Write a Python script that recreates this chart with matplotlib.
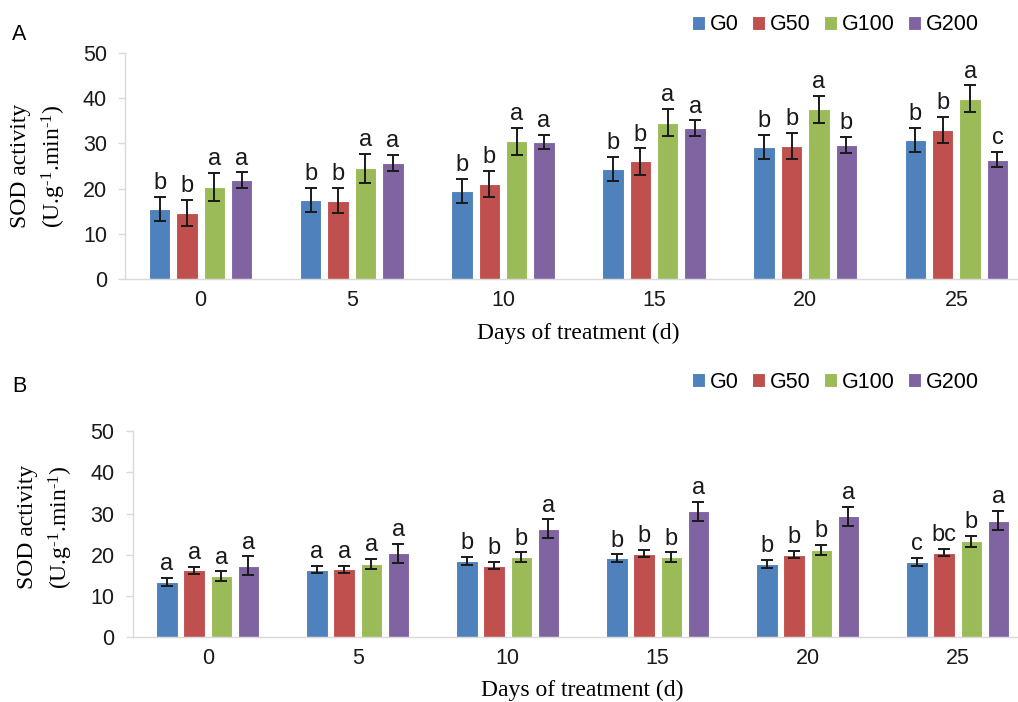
import matplotlib.pyplot as plt
import numpy as np

plt.rcParams['font.family'] = ['Liberation Sans', 'DejaVu Sans']
plt.rcParams['mathtext.fontset'] = 'custom'
plt.rcParams['mathtext.rm'] = 'Liberation Serif'
plt.rcParams['mathtext.it'] = 'Liberation Serif:italic'

days = ['0', '5', '10', '15', '20', '25']
groups = ['G0', 'G50', 'G100', 'G200']
colors = ['#4F81BD', '#C0504D', '#9BBB59', '#8064A2']

# panel A
a_g0 = [15.5, 17.5, 19.5, 24.3, 29.3, 30.8]
a_g50 = [14.6, 17.3, 21.0, 26.0, 29.35, 33.0]
a_g100 = [20.3, 24.5, 30.5, 34.6, 37.5, 39.9]
a_g200 = [21.9, 25.6, 30.3, 33.4, 29.6, 26.4]
a_g0_err = [2.6, 2.6, 2.6, 2.7, 2.65, 2.7]
a_g50_err = [2.95, 2.8, 2.9, 2.9, 2.9, 2.95]
a_g100_err = [3.15, 3.2, 3.0, 2.95, 2.95, 2.95]
a_g200_err = [1.7, 1.8, 1.6, 1.7, 1.8, 1.7]
a_g0_sig = ['b', 'b', 'b', 'b', 'b', 'b']
a_g50_sig = ['b', 'b', 'b', 'b', 'b', 'b']
a_g100_sig = ['a', 'a', 'a', 'a', 'a', 'a']
a_g200_sig = ['a', 'a', 'a', 'a', 'b', 'c']

# panel B
b_g0 = [13.4, 16.4, 18.5, 19.2, 17.8, 18.3]
b_g50 = [16.2, 16.5, 17.4, 20.3, 20.0, 20.5]
b_g100 = [14.8, 17.8, 19.4, 19.4, 21.2, 23.3]
b_g200 = [17.4, 20.4, 26.3, 30.5, 29.3, 28.3]
b_g0_err = [0.95, 0.9, 0.9, 0.9, 0.9, 0.9]
b_g50_err = [0.9, 0.8, 0.9, 0.8, 0.9, 0.9]
b_g100_err = [1.2, 1.2, 1.2, 1.2, 1.2, 1.3]
b_g200_err = [2.2, 2.3, 2.3, 2.3, 2.3, 2.3]
b_g0_sig = ['a', 'a', 'b', 'b', 'b', 'c']
b_g50_sig = ['a', 'a', 'b', 'b', 'b', 'bc']
b_g100_sig = ['a', 'a', 'b', 'b', 'b', 'b']
b_g200_sig = ['a', 'a', 'a', 'a', 'a', 'a']

W, H = 1018, 702
SERIF = ['Liberation Serif', 'DejaVu Serif']
YLABEL = 'SOD activity\n(U.g$^{\\text{-}1}$.min$^{\\text{-}1}$)'


def draw_panel(ax, means, errs, sigs):
    x = np.arange(len(days))
    pitch, width = 0.181, 0.142
    bars = []
    for i, (m, e, s) in enumerate(zip(means, errs, sigs)):
        xs = x + (i - 1.5) * pitch
        b = ax.bar(xs, m, width, color=colors[i], edgecolor='white', linewidth=0.8,
                   yerr=e, label=groups[i],
                   error_kw=dict(ecolor='#1a1a1a', elinewidth=1.4, capsize=4.5, capthick=1.4))
        bars.append(b)
        for xi, mi, ei, si in zip(xs, m, e, s):
            ax.annotate(si, (xi, mi + ei), xytext=(0, 2), textcoords='offset points',
                        ha='center', va='bottom', fontsize=17, color='#1a1a1a')
    ax.set_xlim(-0.5, len(days) - 0.5)
    ax.set_ylim(0, 50)
    ax.set_yticks(range(0, 51, 10))
    ax.set_xticks(x)
    ax.set_xticklabels(days)
    for side in ('top', 'right'):
        ax.spines[side].set_visible(False)
    for side in ('left', 'bottom'):
        ax.spines[side].set_color('#d9d9d9')
        ax.spines[side].set_linewidth(1.0)
    ax.tick_params(axis='y', length=5, width=1, color='#d9d9d9', pad=8,
                   labelsize=15.5, labelcolor='#1a1a1a')
    ax.tick_params(axis='x', length=0, pad=8, labelsize=15.5, labelcolor='#1a1a1a')
    return bars


fig = plt.figure(figsize=(W / 100, H / 100), dpi=100)

ax_a = fig.add_axes([125 / W, 1 - 279 / H, 907 / W, 226 / H])
bars_a = draw_panel(ax_a, [a_g0, a_g50, a_g100, a_g200],
                    [a_g0_err, a_g50_err, a_g100_err, a_g200_err],
                    [a_g0_sig, a_g50_sig, a_g100_sig, a_g200_sig])

ax_b = fig.add_axes([132.7 / W, 1 - 637.3 / H, 900 / W, 206.3 / H])
bars_b = draw_panel(ax_b, [b_g0, b_g50, b_g100, b_g200],
                    [b_g0_err, b_g50_err, b_g100_err, b_g200_err],
                    [b_g0_sig, b_g50_sig, b_g100_sig, b_g200_sig])

for ax, bars, ly in ((ax_a, bars_a, 25), (ax_b, bars_b, 382)):
    ax.legend(bars, groups, loc='center', bbox_to_anchor=(835.5 / W, 1 - ly / H),
              bbox_transform=fig.transFigure, ncol=4, frameon=False, fontsize=15.5,
              handlelength=0.6, handleheight=0.6, handletextpad=0.25,
              columnspacing=0.6, borderpad=0)

# panel letters, axis titles
fig.text(19 / W, 1 - 35 / H, 'A', ha='center', va='center', fontsize=15.5)
fig.text(19 / W, 1 - 387 / H, 'B', ha='center', va='center', fontsize=15.5)
fig.text(39 / W, 1 - 166 / H, YLABEL, rotation=90, ha='center', va='center',
         fontsize=17, family=SERIF, linespacing=1.4, multialignment='center')
fig.text(46 / W, 1 - 527 / H, YLABEL, rotation=90, ha='center', va='center',
         fontsize=17, family=SERIF, linespacing=1.4, multialignment='center')
fig.text(578 / W, 1 - 333 / H, 'Days of treatment (d)', ha='center', va='center',
         fontsize=17, family=SERIF)
fig.text(582 / W, 1 - 690 / H, 'Days of treatment (d)', ha='center', va='center',
         fontsize=17, family=SERIF)

fig.savefig('out.png', dpi=100)
